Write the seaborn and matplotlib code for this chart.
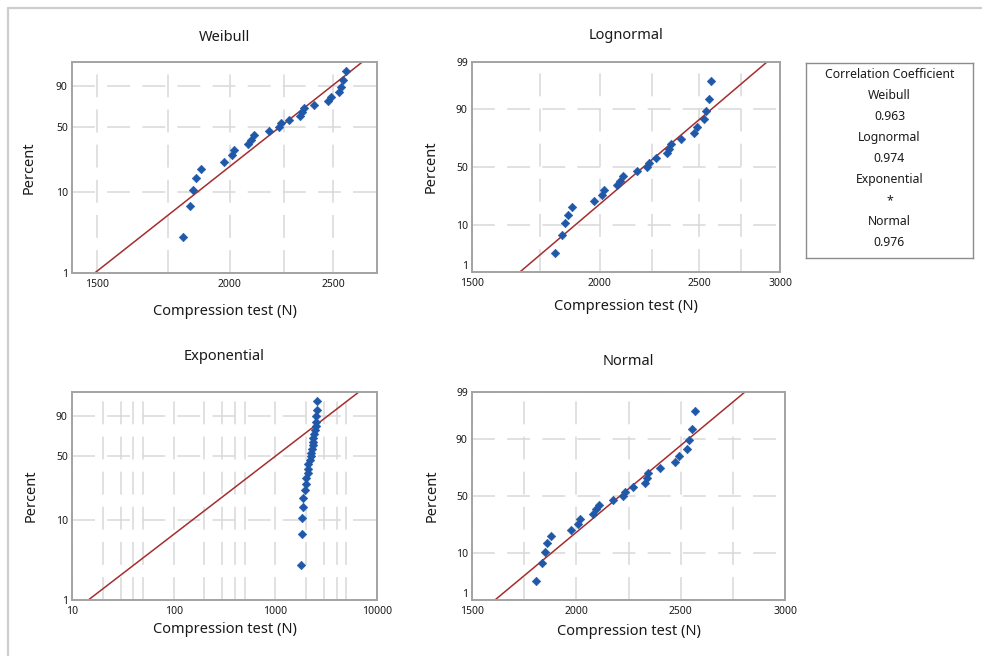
import math
import numpy as np
import matplotlib
matplotlib.use("Agg")
import matplotlib.pyplot as plt
import seaborn as sns
from matplotlib.ticker import FixedLocator, NullFormatter, NullLocator, LogLocator
from matplotlib.lines import Line2D

# ---------------- data ----------------
compression = [1808, 1835, 1848, 1860, 1878, 1976, 2010, 2018, 2080, 2095,
               2108, 2176, 2225, 2235, 2272, 2328, 2338, 2345, 2400, 2474,
               2490, 2530, 2540, 2555, 2568]
percent = [2.8, 6.7, 10.6, 14.6, 18.5, 22.4, 26.4, 30.3, 34.3, 38.2,
           42.1, 46.1, 50.0, 53.9, 57.9, 61.8, 65.7, 69.7, 73.6, 77.6,
           81.5, 85.4, 89.4, 93.3, 97.2]

# fitted distribution parameters (estimated from the red lines)
weibull_shape = 10.6
weibull_scale = 2305.0
lognormal_loc = 7.699
lognormal_scale = 0.1195
exponential_mean = 1440.0
normal_mean = 2209.0
normal_sd = 257.5

corr_names = ["Weibull", "Lognormal", "Exponential", "Normal"]
corr_values = ["0.963", "0.974", "*", "0.976"]

titles = ["Weibull", "Lognormal", "Exponential", "Normal"]
xlabel = "Compression test (N)"
ylabel = "Percent"

# ---------------- helpers ----------------
_a = [-3.969683028665376e+01, 2.209460984245205e+02, -2.759285104469687e+02,
      1.383577518672690e+02, -3.066479806614716e+01, 2.506628277459239e+00]
_b = [-5.447609879822406e+01, 1.615858368580409e+02, -1.556989798598866e+02,
      6.680131188771972e+01, -1.328068155288572e+01]
_c = [-7.784894002430293e-03, -3.223964580411365e-01, -2.400758277161838e+00,
      -2.549671010114010e+00, 4.374664141464968e+00, 2.938163982698783e+00]
_d = [7.784695709041462e-03, 3.224671290700398e-01, 2.445134137142996e+00,
      3.754408661907416e+00]


def norm_ppf(p):
    p = np.asarray(p, dtype=float)
    shape = p.shape
    p = np.atleast_1d(p).ravel()
    x = np.empty_like(p)
    plow = 0.02425
    lo = p < plow
    hi = p > 1 - plow
    mid = ~(lo | hi)
    q = np.sqrt(-2 * np.log(p[lo]))
    x[lo] = (((((_c[0]*q+_c[1])*q+_c[2])*q+_c[3])*q+_c[4])*q+_c[5]) / \
            ((((_d[0]*q+_d[1])*q+_d[2])*q+_d[3])*q+1)
    q = p[mid] - 0.5
    r = q * q
    x[mid] = (((((_a[0]*r+_a[1])*r+_a[2])*r+_a[3])*r+_a[4])*r+_a[5])*q / \
             (((((_b[0]*r+_b[1])*r+_b[2])*r+_b[3])*r+_b[4])*r+1)
    q = np.sqrt(-2 * np.log(1 - p[hi]))
    x[hi] = -(((((_c[0]*q+_c[1])*q+_c[2])*q+_c[3])*q+_c[4])*q+_c[5]) / \
             ((((_d[0]*q+_d[1])*q+_d[2])*q+_d[3])*q+1)
    return x.reshape(shape)


_erf = np.vectorize(math.erf)


def norm_cdf(z):
    return 0.5 * (1 + _erf(np.asarray(z, dtype=float) / math.sqrt(2)))


def _clip(p):
    return np.clip(np.asarray(p, dtype=float) / 100.0, 1e-9, 1 - 1e-9)


def sev_fwd(p):
    return np.log(-np.log(1 - _clip(p)))


def sev_inv(y):
    return 100 * (1 - np.exp(-np.exp(np.asarray(y, dtype=float))))


def nrm_fwd(p):
    return norm_ppf(_clip(p))


def nrm_inv(z):
    return 100 * norm_cdf(z)


# fitted-line quantile functions
line_p = np.linspace(0.3, 99.7, 400)
lp = line_p / 100.0
lines = {
    "Weibull": weibull_scale * (-np.log(1 - lp)) ** (1 / weibull_shape),
    "Lognormal": np.exp(lognormal_loc + lognormal_scale * norm_ppf(lp)),
    "Exponential": exponential_mean * (-np.log(1 - lp)),
    "Normal": normal_mean + normal_sd * norm_ppf(lp),
}

# ---------------- figure ----------------
sns.set_theme(style="white")
plt.rcParams["font.family"] = ["Noto Sans", "DejaVu Sans"]
plt.rcParams["text.color"] = "#1a1a1a"

W, H = 982, 656
fig = plt.figure(figsize=(W / 100, H / 100), dpi=100)
fig.patch.set_facecolor("white")


def rect(l, t, r, b):
    return [l / W, (H - b) / H, (r - l) / W, (b - t) / H]


panels = [
    dict(name="Weibull", rect=rect(72, 62, 377, 273), xscale="log",
         xlim=(1422, 2748), xmaj=[1500, 2000, 2500], xmin=[1750, 2250],
         ys=(sev_fwd, sev_inv), yt=[1, 10, 50, 90], pad=15, xlab_y=-0.147,
         ylab_x=-0.115, lift_one=False),
    dict(name="Lognormal", rect=rect(472, 62, 780, 272), xscale="log",
         xlim=(1500, 3000), xmaj=[1500, 2000, 2500, 3000], xmin=[1750, 2250, 2750],
         ys=(nrm_fwd, nrm_inv), yt=[1, 10, 50, 90, 99], pad=16.5, xlab_y=-0.129,
         ylab_x=-0.107, lift_one=True),
    dict(name="Exponential", rect=rect(72, 392, 377, 600), xscale="log",
         xlim=(10, 10000), xmaj=[10, 100, 1000, 10000], xmin=None,
         ys=(sev_fwd, sev_inv), yt=[1, 10, 50, 90], pad=23, xlab_y=-0.106,
         ylab_x=-0.108, lift_one=False),
    dict(name="Normal", rect=rect(472, 392, 785, 600), xscale="linear",
         xlim=(1500, 3000), xmaj=[1500, 2000, 2500, 3000], xmin=[1750, 2250, 2750],
         ys=(nrm_fwd, nrm_inv), yt=[1, 10, 50, 90, 99], pad=19.5, xlab_y=-0.115,
         ylab_x=-0.105, lift_one=True),
]

grid_kw = dict(color="#d9d9d9", linestyle=(0, (15, 8)), linewidth=1.1)

for cfg in panels:
    ax = fig.add_axes(cfg["rect"])
    ax.set_xscale(cfg["xscale"])
    ax.set_yscale("function", functions=cfg["ys"])
    ax.set_axisbelow(True)

    sns.lineplot(x=lines[cfg["name"]], y=line_p, ax=ax, color="#a52d2d",
                 linewidth=1.1, sort=False, estimator=None, zorder=2)
    sns.scatterplot(x=compression, y=percent, ax=ax, marker="D", s=19,
                    color="#1f58a8", edgecolor="#1f58a8", linewidth=0.4, zorder=3)

    ax.set_xlim(*cfg["xlim"])
    ax.set_ylim(1, 99)

    ax.xaxis.set_major_locator(FixedLocator(cfg["xmaj"]))
    ax.set_xticklabels([str(v) for v in cfg["xmaj"]])
    if cfg["xmin"] is None:
        ax.xaxis.set_minor_locator(LogLocator(base=10, subs=[2, 3, 4, 5]))
    else:
        ax.xaxis.set_minor_locator(FixedLocator(cfg["xmin"]))
    ax.xaxis.set_minor_formatter(NullFormatter())

    ax.yaxis.set_major_locator(FixedLocator(cfg["yt"]))
    ax.set_yticklabels([str(v) for v in cfg["yt"]])
    ax.yaxis.set_minor_locator(NullLocator())

    ax.grid(True, which="both", axis="x", **grid_kw)
    ax.grid(True, which="major", axis="y", **grid_kw)

    ax.tick_params(which="both", length=0, labelsize=7.5, colors="#1a1a1a")
    ax.tick_params(axis="x", pad=4)
    ax.tick_params(axis="y", pad=3)
    for s in ax.spines.values():
        s.set_color("#a3a3a3")
        s.set_linewidth(1.4)

    if cfg["lift_one"]:
        # lift the "1" label a little so it clears the first x label (as in the reference)
        ax.get_yticklabels()[0].set_va("bottom")

    ax.set_title(cfg["name"], fontsize=10.5, pad=cfg["pad"], color="#1a1a1a")
    ax.set_xlabel(xlabel, fontsize=10.5, color="#1a1a1a")
    ax.set_ylabel(ylabel, fontsize=10.5, color="#1a1a1a")
    ax.xaxis.set_label_coords(0.5, cfg["xlab_y"])
    ax.yaxis.set_label_coords(cfg["ylab_x"], 0.5)

# legend box with correlation coefficients
lax = fig.add_axes(rect(806, 63, 973, 258))
lax.set_xticks([])
lax.set_yticks([])
for s in lax.spines.values():
    s.set_color("#8c8c8c")
    s.set_linewidth(1.0)
legend_lines = ["Correlation Coefficient"]
for n, v in zip(corr_names, corr_values):
    legend_lines += [n, v]
y0 = 1 - 12 / 195
step = 20.9 / 195
for i, t in enumerate(legend_lines):
    lax.text(0.5, y0 - i * step, t, ha="center", va="center", fontsize=8.8,
             transform=lax.transAxes, color="#1a1a1a")

# outer frame (left and top edges)
fig.add_artist(Line2D([7.5 / W, 7.5 / W], [0, 1 - 8 / H], transform=fig.transFigure,
                      color="#cdcdcd", linewidth=1.6))
fig.add_artist(Line2D([7.5 / W, 1], [1 - 8 / H, 1 - 8 / H], transform=fig.transFigure,
                      color="#cdcdcd", linewidth=1.6))

fig.savefig("out.png", dpi=100)
